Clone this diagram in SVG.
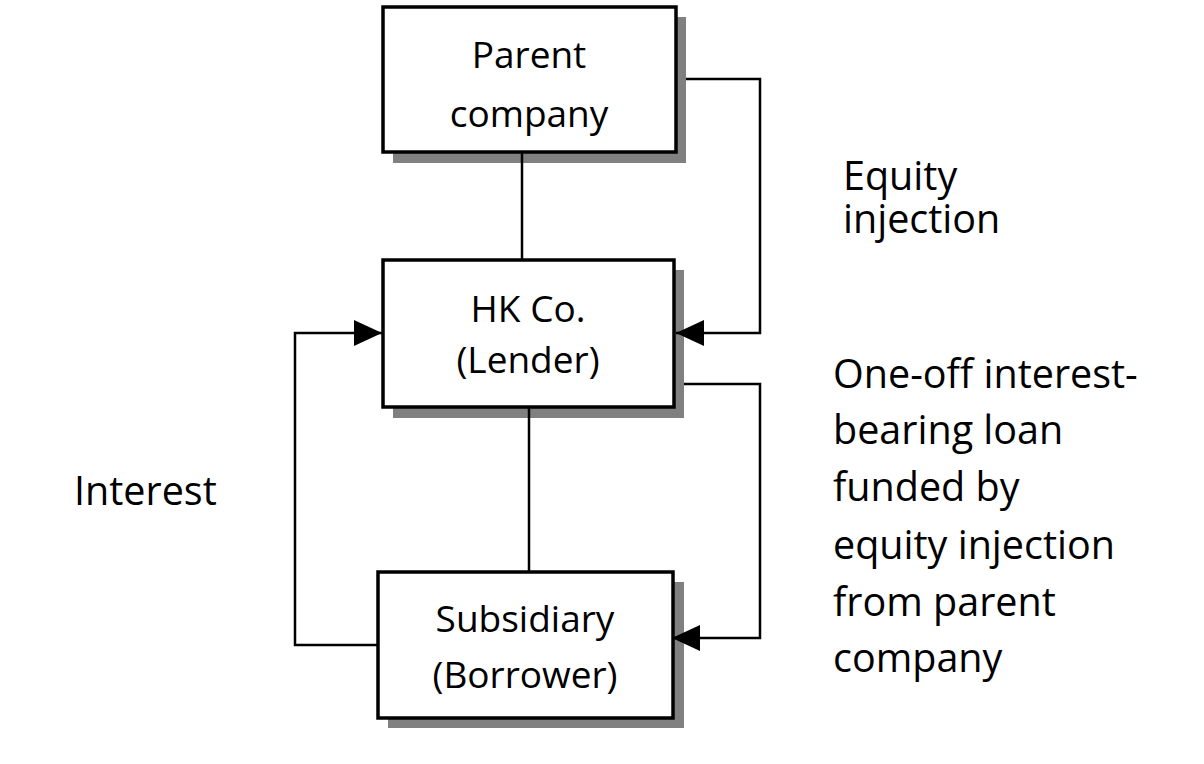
<svg xmlns="http://www.w3.org/2000/svg" width="1204" height="764" viewBox="0 0 1204 764">
<defs>
<style>
.box{fill:#fff;stroke:#000;stroke-width:3.5}
.shadow{fill:#808080}
.t{font-family:"Open Sans","Liberation Sans",sans-serif;font-size:37px;fill:#000}
.c{text-anchor:middle}
.lbl{font-family:"Open Sans","Liberation Sans",sans-serif;font-size:39.5px;fill:#000}
.ln{fill:none;stroke:#000;stroke-width:2.5}
</style>
<marker id="arr" viewBox="0 0 28 26" refX="28" refY="13" markerWidth="28" markerHeight="26" markerUnits="userSpaceOnUse" orient="auto">
<path d="M0,0 L28,13 L0,26 Z" fill="#000"/>
</marker>
</defs>
<rect width="1204" height="764" fill="#fff"/>
<g id="parent">
<rect class="shadow" x="393" y="17" width="293" height="146"/>
<rect class="box" x="383" y="7" width="293" height="145"/>
<text class="t c" x="529" y="68">Parent</text>
<text class="t c" x="529" y="127">company</text>
</g>
<g id="hkco">
<rect class="shadow" x="393" y="270" width="291" height="148"/>
<rect class="box" x="383" y="260" width="291" height="147"/>
<text class="t c" x="528" y="322">HK Co.</text>
<text class="t c" x="528" y="373">(Lender)</text>
</g>
<g id="subsidiary">
<rect class="shadow" x="388" y="582" width="296" height="146"/>
<rect class="box" x="378" y="572" width="295" height="146"/>
<text class="t c" x="525" y="632">Subsidiary</text>
<text class="t c" x="525" y="688">(Borrower)</text>
</g>
<g id="connectors">
<line class="ln" x1="522" y1="153" x2="522" y2="259"/>
<line class="ln" x1="529" y1="408" x2="529" y2="571"/>
<polyline class="ln" points="686,79 760,79 760,333 676,333" marker-end="url(#arr)"/>
<polyline class="ln" points="684,384 760,384 760,638 672,638" marker-end="url(#arr)"/>
<polyline class="ln" points="377,645 295,645 295,333 382,333" marker-end="url(#arr)"/>
</g>
<g id="labels">
<text class="lbl" x="843" y="190">Equity</text>
<text class="lbl" x="843" y="233">injection</text>
<text class="lbl" x="74" y="505">Interest</text>
<text class="lbl" x="833" y="388">One-off interest-</text>
<text class="lbl" x="833" y="444">bearing loan</text>
<text class="lbl" x="833" y="501">funded by</text>
<text class="lbl" x="833" y="559">equity injection</text>
<text class="lbl" x="833" y="616">from parent</text>
<text class="lbl" x="833" y="672">company</text>
</g>
</svg>
